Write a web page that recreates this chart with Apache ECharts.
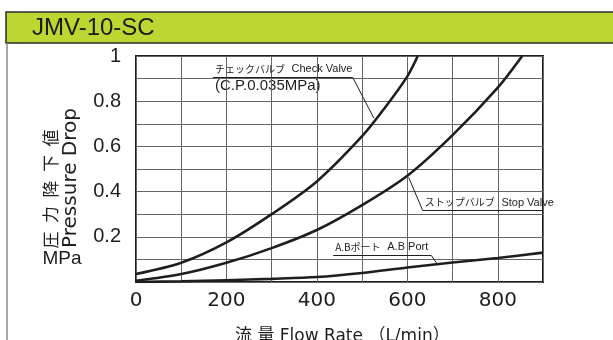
<!DOCTYPE html>
<html>
<head>
<meta charset="utf-8">
<script src="https://cdn.jsdelivr.net/npm/echarts@6/dist/echarts.min.js"></script>
<style>
html, body { margin: 0; padding: 0; background: #fff; }
#main { width: 613px; height: 340px; }
</style>
</head>
<body>
<div id="main"></div>
<script>
// data: [flow L/min, pressure drop MPa]
var checkValve = [[0, 0.035], [100, 0.085], [200, 0.175], [300, 0.3], [400, 0.445], [500, 0.645],
  [550, 0.77], [600, 0.91], [623, 1.0]];
var stopValve = [[0, 0.005], [100, 0.035], [200, 0.085], [300, 0.15], [400, 0.23], [500, 0.34],
  [600, 0.47], [700, 0.65], [800, 0.86], [854, 1.0]];
var abPort = [[0, 0], [100, 0.003], [200, 0.008], [300, 0.014], [400, 0.022], [500, 0.04],
  [600, 0.064], [700, 0.086], [800, 0.106], [900, 0.13]];

var xTickLabels = [0, 200, 400, 600, 800];
var yTickLabels = [0.2, 0.4, 0.6, 0.8, 1];

var title = 'JMV-10-SC';
var checkLabel = ['チェックバルブ', 'Check Valve'];
var checkNote = '(C.P.0.035MPa)';
var stopLabel = ['ストップバルブ', 'Stop Valve'];
var portLabel = ['A.Bポート', 'A.B Port'];

var ink = '#1e1e1e';

function noteLine(underline, leader, text) {
  // underline under the text, then a leader down to the curve
  return [
    [{coord: underline[0], label: {show: true, position: 'insideStartTop', distance: 2,
        formatter: '{jp|' + text[0] + '}  {en|' + text[1] + '}',
        rich: {
          jp: {fontFamily: '"Noto Sans CJK JP"', fontSize: 10, color: ink},
          en: {fontFamily: '"Liberation Sans"', fontSize: 11, color: ink}
        }}},
     {coord: underline[1]}],
    [{coord: leader[0], label: {show: false}}, {coord: leader[1]}]
  ];
}

function curve(name, data, notes) {
  return {
    name: name,
    type: 'line',
    data: data,
    smooth: 0.3,
    showSymbol: false,
    symbol: 'none',
    lineStyle: {color: ink, width: 2.6},
    markLine: {
      silent: true,
      symbol: ['none', 'none'],
      lineStyle: {color: ink, width: 1, type: 'solid'},
      data: notes
    }
  };
}

var chart = echarts.init(document.getElementById('main'));

var option = {
  animation: false,
  backgroundColor: '#fff',
  grid: {
    left: 136, right: 70, top: 56, bottom: 58,
    show: true, borderColor: ink, borderWidth: 2, backgroundColor: 'transparent'
  },
  xAxis: {
    type: 'value',
    min: 0, max: 900, interval: 100,
    axisLine: {show: false},
    axisTick: {show: false},
    splitLine: {show: true, lineStyle: {color: '#666', width: 1}},
    axisLabel: {
      margin: 9,
      fontFamily: '"DejaVu Sans"', fontSize: 20, color: ink,
      formatter: function (v) {
        return xTickLabels.indexOf(v) >= 0 ? String(v) : '';
      }
    }
  },
  yAxis: {
    type: 'value',
    min: 0, max: 1, interval: 0.1,
    axisLine: {show: false},
    axisTick: {show: false},
    splitLine: {show: true, lineStyle: {color: '#666', width: 1}},
    axisLabel: {
      margin: 15,
      fontFamily: '"Liberation Sans"', fontSize: 20, color: ink,
      padding: [5, 0, 0, 0],
      formatter: function (v) {
        var r = Math.round(v * 10) / 10;
        return yTickLabels.indexOf(r) >= 0 ? String(r) : '';
      }
    }
  },
  series: [
    curve('check', checkValve, noteLine([[170, 0.906], [479, 0.906]], [[479, 0.906], [526, 0.725]], checkLabel)),
    curve('stop', stopValve, noteLine([[634, 0.316], [900, 0.316]], [[634, 0.316], [603, 0.463]], stopLabel)),
    curve('port', abPort, noteLine([[436, 0.1175], [653, 0.1175]], [[653, 0.1175], [668, 0.074]], portLabel))
  ],
  graphic: [
    {type: 'rect', shape: {x: 6, y: 12, width: 640, height: 31},
      style: {fill: '#bdd632', stroke: '#2a2a2a', lineWidth: 1.5}},
    {type: 'line', shape: {x1: 7, y1: 43, x2: 7, y2: 340},
      style: {stroke: '#8a8a8a', lineWidth: 1.5}},
    {type: 'text', x: 32, y: 28,
      style: {text: title, fill: '#1a1a1a', font: '24px "Liberation Sans"', verticalAlign: 'middle'}},
    {type: 'text', x: 51, y: 189, rotation: Math.PI / 2,
      style: {text: '圧\u2002力\u2002降\u2002下\u2002値', fill: ink, font: '17px "Noto Sans CJK JP"',
        align: 'center', verticalAlign: 'middle'}},
    {type: 'text', x: 71, y: 178, rotation: Math.PI / 2,
      style: {text: 'Pressure Drop', fill: ink, font: '20px "DejaVu Sans"',
        align: 'center', verticalAlign: 'middle'}},
    {type: 'text', x: 62, y: 259,
      style: {text: 'MPa', fill: ink, font: '19px "Liberation Sans"',
        align: 'center', verticalAlign: 'middle'}},
    {type: 'text', x: 215, y: 86,
      style: {text: checkNote, fill: ink, font: '15px "Liberation Sans"', verticalAlign: 'middle'}},
    {type: 'text', x: 235, y: 328,
      style: {text: '流 量 Flow Rate （L/min）', fill: ink, font: '17px "DejaVu Sans", "Noto Sans CJK JP"',
        verticalAlign: 'top'}}
  ]
};

chart.setOption(option);
</script>
</body>
</html>
